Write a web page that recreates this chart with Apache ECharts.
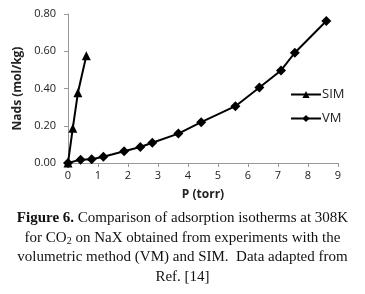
<!DOCTYPE html>
<html>
<head>
<meta charset="utf-8">
<script src="https://cdn.jsdelivr.net/npm/echarts@6/dist/echarts.min.js"></script>
<style>
  html, body { margin: 0; padding: 0; background: #fff; }
  #container { width: 365px; height: 294px; }
</style>
</head>
<body>
<div id="container"></div>
<script>
// data
var simP = [0, 0.16, 0.33, 0.61];
var simN = [0, 0.187, 0.377, 0.576];
var vmP = [0, 0.42, 0.79, 1.18, 1.87, 2.41, 2.81, 3.68, 4.44, 5.58, 6.38, 7.10, 7.56, 8.61];
var vmN = [0, 0.018, 0.020, 0.034, 0.063, 0.086, 0.109, 0.158, 0.219, 0.305, 0.405, 0.497, 0.592, 0.762];
var captionLines = [
  '{b|Figure 6.} Comparison of adsorption isotherms at 308K',
  'for CO{s|2} on NaX obtained from experiments with the',
  'volumetric method (VM) and SIM.  Data adapted from',
  'Ref. [14]'
];

function pairs(xs, ys) {
  return xs.map(function (x, i) { return [x, ys[i]]; });
}

var dom = document.getElementById('container');
var myChart = echarts.init(dom, null, { renderer: 'canvas' });

var axisFont = { fontFamily: 'Open Sans', fontSize: 11, color: '#222' };

var option = {
  animation: false,
  backgroundColor: '#fff',
  grid: { left: 68, right: 27, top: 14, bottom: 131 },
  legend: {
    orient: 'vertical',
    left: 285, top: 83,
    itemWidth: 30, itemHeight: 9, itemGap: 11,
    textStyle: { fontFamily: 'Open Sans', fontSize: 13, color: '#222', padding: [0, 0, 0, -4] },
    data: ['SIM', 'VM']
  },
  xAxis: {
    type: 'value', min: 0, max: 9, interval: 1,
    name: 'P (torr)', nameLocation: 'middle', nameGap: 26,
    nameTextStyle: { fontFamily: 'Open Sans', fontSize: 12, fontWeight: 'bold', color: '#222' },
    axisLine: { lineStyle: { color: '#999' } },
    axisTick: { show: true, length: 4, lineStyle: { color: '#999' } },
    axisLabel: Object.assign({ margin: 7 }, axisFont),
    splitLine: { show: false }
  },
  yAxis: {
    type: 'value', min: 0, max: 0.8, interval: 0.2,
    name: 'Nads (mol/kg)', nameLocation: 'middle', nameGap: 35,
    nameTextStyle: { fontFamily: 'Open Sans', fontSize: 12, fontWeight: 'bold', color: '#222' },
    axisLine: { show: true, lineStyle: { color: '#999' } },
    axisTick: { show: true, length: 4, lineStyle: { color: '#999' } },
    axisLabel: Object.assign({ margin: 12, formatter: function (v) { return v.toFixed(2); } }, axisFont),
    splitLine: { show: false }
  },
  series: [
    {
      name: 'SIM', type: 'line', data: pairs(simP, simN),
      symbol: 'triangle', symbolSize: 9,
      lineStyle: { color: '#000', width: 2 },
      itemStyle: { color: '#000' }
    },
    {
      name: 'VM', type: 'line', data: pairs(vmP, vmN),
      symbol: 'diamond', symbolSize: 10,
      lineStyle: { color: '#000', width: 2 },
      itemStyle: { color: '#000' }
    }
  ],
  graphic: captionLines.map(function (t, i) {
    return {
      type: 'text', left: 'center', top: 211 + i * 19.5,
      style: {
        text: t,
        font: '15px "Liberation Serif"',
        fill: '#111',
        rich: {
          b: { fontFamily: 'Liberation Serif', fontSize: 15, fontWeight: 'bold', fill: '#111' },
          s: { fontFamily: 'Liberation Serif', fontSize: 10, fill: '#111', padding: [7, 0, 0, 0] }
        }
      }
    };
  })
};

myChart.setOption(option);
window.addEventListener('resize', myChart.resize);
</script>
</body>
</html>
